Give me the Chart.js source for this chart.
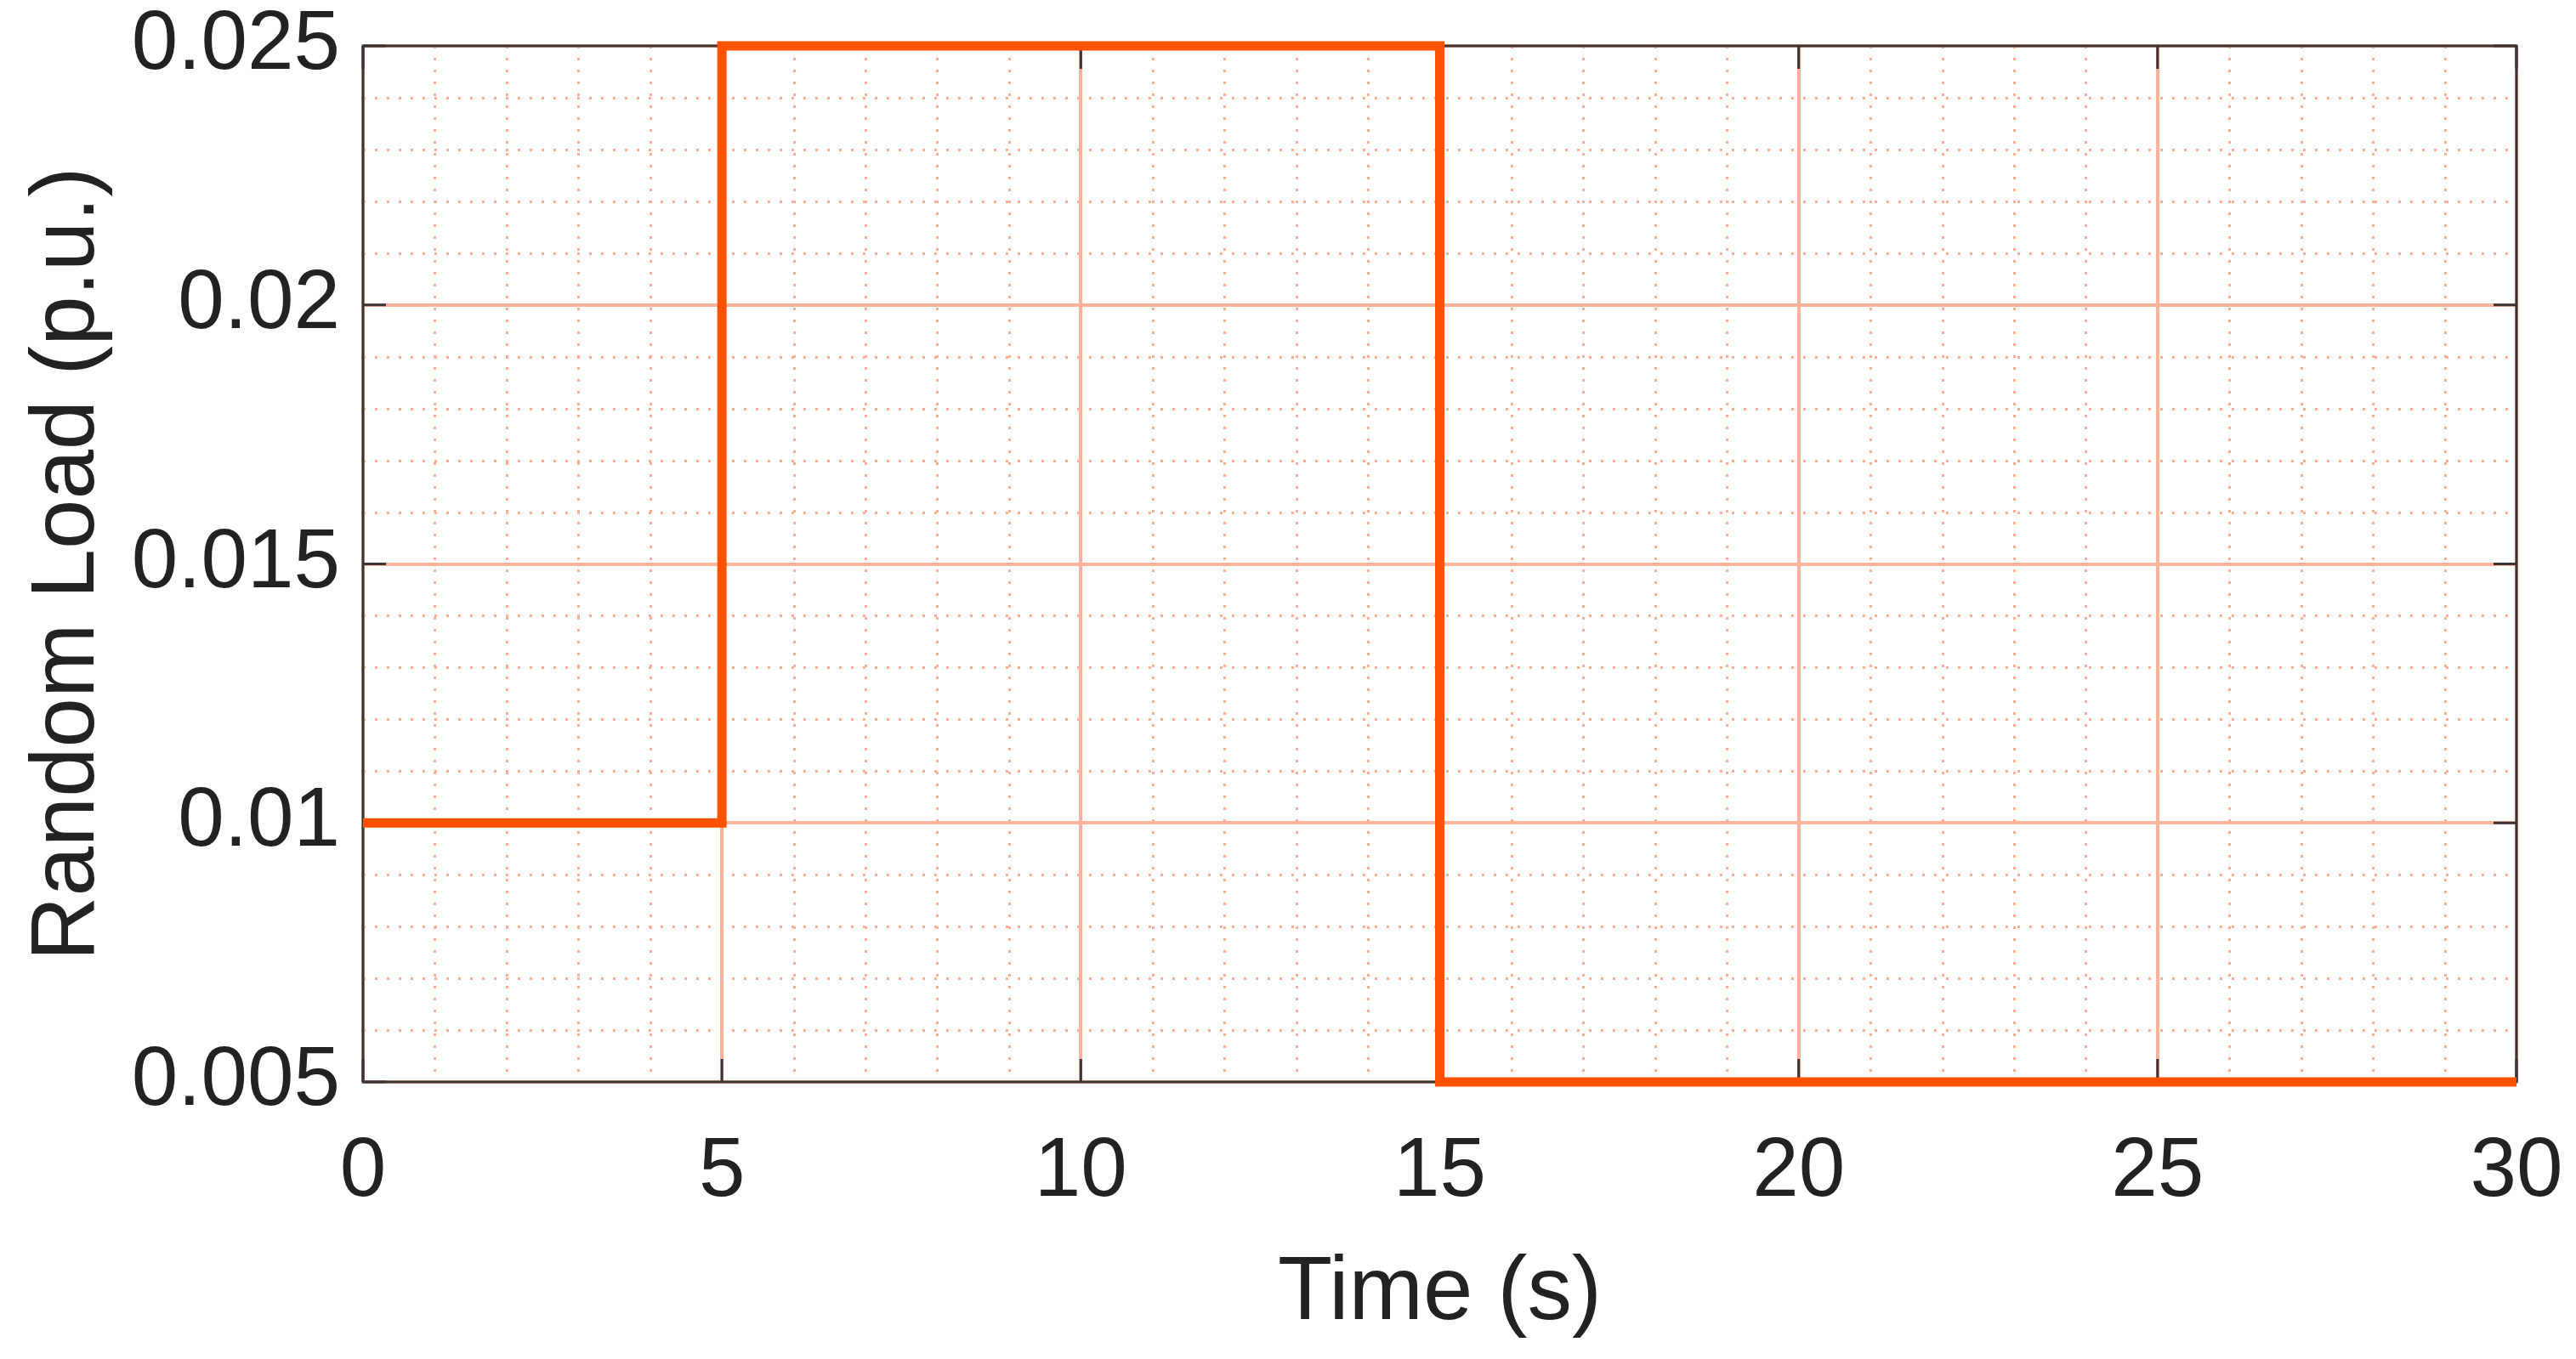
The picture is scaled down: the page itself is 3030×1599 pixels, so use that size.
<!DOCTYPE html>
<html>
<head>
<meta charset="utf-8">
<script src="https://cdn.jsdelivr.net/npm/chart.js@4/dist/chart.umd.min.js"></script>
<style>
  html, body { margin: 0; padding: 0; background: #ffffff; }
  #wrap { width: 3030px; height: 1599px; position: relative; }
  canvas { display: block; }
</style>
</head>
<body>
<div id="wrap"><canvas id="c" width="3030" height="1599"></canvas></div>
<script>
// ---- data ----
const timePoints = [0, 5, 15, 30];
const loadValues = [0.01, 0.025, 0.005, 0.005];
const xTicks = [0, 5, 10, 15, 20, 25, 30];
const xTickLabels = ["0", "5", "10", "15", "20", "25", "30"];
const yTicks = [0.005, 0.01, 0.015, 0.02, 0.025];
const yTickLabels = ["0.005", "0.01", "0.015", "0.02", "0.025"];
const xMinorStep = 1;
const yMinorStep = 0.001;
const xTitle = "Time (s)";
const yTitle = "Random Load (p.u.)";

const LINE_COLOR = "#FF5200";
const MAJOR_GRID = "#FFB29A";
const MINOR_GRID = "#FFAE94";
const AXIS_COLOR = "#3a3434";
const TEXT_COLOR = "#222222";
const FONT = "'Liberation Sans', Arial, Helvetica, sans-serif";

const boxAndMinor = {
  id: 'boxAndMinor',
  beforeDatasetsDraw(chart) {
    const {ctx, chartArea: a, scales: {x, y}} = chart;
    ctx.save();
    // minor dotted grid
    ctx.strokeStyle = MINOR_GRID;
    ctx.lineWidth = 3;
    ctx.setLineDash([3, 11]);
    const xMin = xTicks[0], xMax = xTicks[xTicks.length - 1];
    const nx = Math.round((xMax - xMin) / xMinorStep);
    for (let i = 0; i <= nx; i++) {
      const v = xMin + i * xMinorStep;
      if (xTicks.some(t => Math.abs(t - v) < 1e-9)) continue;
      const px = Math.round(x.getPixelForValue(v)) + 0.5;
      ctx.beginPath(); ctx.moveTo(px, a.top); ctx.lineTo(px, a.bottom); ctx.stroke();
    }
    const yMin = yTicks[0], yMax = yTicks[yTicks.length - 1];
    const ny = Math.round((yMax - yMin) / yMinorStep);
    for (let i = 0; i <= ny; i++) {
      const v = yMin + i * yMinorStep;
      if (yTicks.some(t => Math.abs(t - v) < 1e-9)) continue;
      const py = Math.round(y.getPixelForValue(v)) + 0.5;
      ctx.beginPath(); ctx.moveTo(a.left, py); ctx.lineTo(a.right, py); ctx.stroke();
    }
    ctx.setLineDash([]);
    // box
    ctx.strokeStyle = AXIS_COLOR;
    ctx.lineWidth = 3;
    ctx.strokeRect(a.left, a.top, a.right - a.left, a.bottom - a.top);
    // inward tick marks
    const tl = 27;
    ctx.beginPath();
    xTicks.forEach(v => {
      const px = x.getPixelForValue(v);
      ctx.moveTo(px, a.bottom); ctx.lineTo(px, a.bottom - tl);
      ctx.moveTo(px, a.top); ctx.lineTo(px, a.top + tl);
    });
    yTicks.forEach(v => {
      const py = y.getPixelForValue(v);
      ctx.moveTo(a.left, py); ctx.lineTo(a.left + tl, py);
      ctx.moveTo(a.right, py); ctx.lineTo(a.right - tl, py);
    });
    ctx.stroke();
    ctx.restore();
  }
};

function zeroPad(s) { s.paddingTop = 0; s.paddingBottom = 0; s.paddingLeft = 0; s.paddingRight = 0; }

new Chart(document.getElementById('c'), {
  type: 'line',
  data: {
    datasets: [{
      data: timePoints.map((t, i) => ({x: t, y: loadValues[i]})),
      borderColor: LINE_COLOR,
      borderWidth: 11,
      stepped: 'before',
      pointRadius: 0,
      fill: false,
      clip: 20,
      borderCapStyle: 'butt',
      borderJoinStyle: 'miter'
    }]
  },
  options: {
    responsive: false,
    animation: false,
    devicePixelRatio: 1,
    layout: { padding: { left: 0, right: 70, top: 54, bottom: 0 } },
    plugins: { legend: { display: false }, tooltip: { enabled: false } },
    scales: {
      x: {
        type: 'linear',
        min: xTicks[0],
        max: xTicks[xTicks.length - 1],
        afterBuildTicks: s => { s.ticks = xTicks.map(v => ({value: v})); },
        afterFit: s => { s.height = 326; zeroPad(s); },
        ticks: {
          autoSkip: false,
          maxRotation: 0,
          padding: 48,
          color: TEXT_COLOR,
          font: { family: FONT, size: 98, lineHeight: 1.2 },
          callback: (v, i) => xTickLabels[i]
        },
        grid: { color: MAJOR_GRID, lineWidth: 4, drawTicks: false },
        border: { display: false },
        title: {
          display: true, text: xTitle, color: TEXT_COLOR,
          font: { family: FONT, size: 105, lineHeight: 1.2 },
          padding: { top: 0, bottom: 13 }
        }
      },
      y: {
        type: 'linear',
        min: yTicks[0],
        max: yTicks[yTicks.length - 1],
        afterBuildTicks: s => { s.ticks = yTicks.map(v => ({value: v})); },
        afterFit: s => { s.width = 427; zeroPad(s); },
        ticks: {
          autoSkip: false,
          padding: 27,
          color: TEXT_COLOR,
          font: { family: FONT, size: 98, lineHeight: 1.2 },
          callback: (v, i) => yTickLabels[i]
        },
        grid: { color: MAJOR_GRID, lineWidth: 4, drawTicks: false },
        border: { display: false },
        title: {
          display: true, text: yTitle, color: TEXT_COLOR,
          font: { family: FONT, size: 105, lineHeight: 1.2 },
          padding: { top: 18, bottom: 0 }
        }
      }
    }
  },
  plugins: [boxAndMinor]
});
</script>
</body>
</html>
